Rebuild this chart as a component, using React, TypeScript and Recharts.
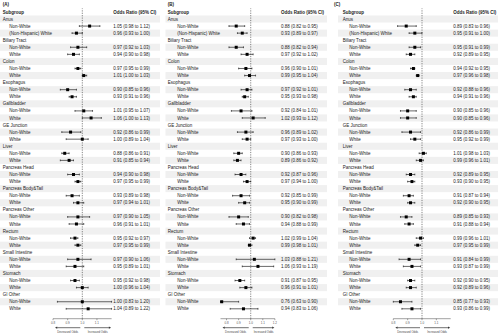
import React from 'react';
import {
  ScatterChart,
  Scatter,
  XAxis,
  YAxis,
  ErrorBar,
  ReferenceLine,
  ReferenceArea,
} from 'recharts';

const FONT = '"Liberation Sans", Arial, sans-serif';

// cancer sites, each has a Non-White and a White row
const sites = [
  'Anus', 'Biliary Tract', 'Colon', 'Esophagus', 'Gallbladder', 'GE Junction', 'Liver',
  'Pancreas Head', 'Pancreas Body&Tail', 'Pancreas Other', 'Rectum', 'Small Intestine',
  'Stomach', 'GI Other',
];

// values are in pairs per site: [Non-White, White]
const orA = [1.05, 0.96, 0.97, 0.94, 0.97, 1.01, 0.90, 0.93, 1.01, 1.06, 0.92, 1.00, 0.88, 0.91,
  0.94, 0.97, 0.93, 0.97, 0.97, 0.96, 0.95, 0.97, 0.97, 0.95, 0.95, 1.00, 1.00, 1.04];
const loA = [0.98, 0.93, 0.92, 0.90, 0.95, 1.00, 0.85, 0.91, 0.95, 1.00, 0.86, 0.89, 0.86, 0.85,
  0.90, 0.95, 0.89, 0.94, 0.90, 0.91, 0.92, 0.95, 0.90, 0.89, 0.92, 0.96, 0.83, 0.89];
const hiA = [1.12, 1.00, 1.03, 0.98, 0.99, 1.03, 0.96, 0.96, 1.07, 1.13, 0.99, 1.04, 0.91, 0.94,
  0.98, 0.99, 0.98, 1.01, 1.05, 1.01, 0.97, 0.99, 1.06, 1.01, 0.98, 1.04, 1.20, 1.22];

const orB = [0.88, 0.93, 0.88, 0.97, 0.96, 0.99, 0.97, 0.95, 0.92, 1.02, 0.96, 0.97, 0.90, 0.89,
  0.92, 0.97, 0.92, 0.95, 0.90, 0.94, 1.02, 0.99, 1.03, 1.06, 0.91, 0.96, 0.76, 0.94];
const loB = [0.82, 0.89, 0.82, 0.92, 0.90, 0.95, 0.92, 0.93, 0.84, 0.93, 0.89, 0.93, 0.86, 0.86,
  0.87, 0.94, 0.85, 0.90, 0.82, 0.88, 0.99, 0.98, 0.88, 0.93, 0.87, 0.91, 0.63, 0.83];
const hiB = [0.95, 0.97, 0.94, 1.02, 1.01, 1.04, 1.01, 0.98, 1.01, 1.12, 1.02, 1.00, 0.93, 0.92,
  0.96, 1.00, 0.99, 0.99, 0.98, 0.99, 1.04, 1.01, 1.21, 1.19, 0.95, 1.01, 0.90, 1.06];

const orC = [0.89, 0.95, 0.95, 0.92, 0.94, 0.97, 0.92, 0.94, 0.90, 0.90, 0.92, 0.95, 1.01, 0.99,
  0.92, 0.93, 0.91, 0.92, 0.89, 0.91, 0.99, 0.97, 0.91, 0.93, 0.92, 0.92, 0.85, 0.93];
const loC = [0.83, 0.91, 0.91, 0.89, 0.92, 0.96, 0.88, 0.91, 0.85, 0.85, 0.86, 0.92, 0.98, 0.96,
  0.89, 0.90, 0.87, 0.90, 0.85, 0.88, 0.96, 0.95, 0.84, 0.87, 0.90, 0.89, 0.77, 0.86];
const hiC = [0.96, 1.00, 0.99, 0.95, 0.95, 0.98, 0.96, 0.96, 0.96, 0.96, 0.99, 0.99, 1.03, 1.01,
  0.95, 0.95, 0.94, 0.95, 0.93, 0.94, 1.01, 0.99, 0.99, 0.99, 0.95, 0.96, 0.93, 0.99];

const ticksAC = [0.8, 0.9, 1.0, 1.1];
const ticksB = [0.8, 0.9, 1.0, 1.1, 1.2];

type PanelCfg = {
  title: string;
  left: number;
  width: number;
  plotLeft: number;
  plotRight: number;
  bandL: number;
  bandR: number;
  titleX: number;
  nameX: number;
  indentX: number;
  valueX: number;
  domain: [number, number];
  ticks: number[];
  or: number[];
  lo: number[];
  hi: number[];
};

const panels: PanelCfg[] = [
  { title: '(A)', left: 0, width: 162, plotLeft: 53, plotRight: 111.6, bandL: 0, bandR: 160,
    titleX: 2.7, nameX: 2.7, indentX: 9.3, valueX: 113.3, domain: [0.8, 1.2], ticks: ticksAC,
    or: orA, lo: loA, hi: hiA },
  { title: '(B)', left: 165, width: 164, plotLeft: 55.5, plotRight: 109.9, bandL: 0.5, bandR: 162,
    titleX: 2.7, nameX: 2.7, indentX: 12.3, valueX: 116, domain: [0.75, 1.2], ticks: ticksB,
    or: orB, lo: loB, hi: hiB },
  { title: '(C)', left: 331, width: 169, plotLeft: 62.3, plotRight: 119.7, bandL: 7, bandR: 167,
    titleX: 3, nameX: 11.7, indentX: 18.3, valueX: 122.3, domain: [0.8, 1.2], ticks: ticksAC,
    or: orC, lo: loC, hi: hiC },
];

const rowIds = Array.from({ length: 43 }, (_, i) => i - 1);
const shadedRows = rowIds.filter((i) => i >= 0 && i % 2 === 0);

function rowLabel(row: number) {
  const site = Math.floor(row / 3);
  const r = row % 3;
  if (r === 0) return sites[site];
  if (r === 1) return 'Non-White';
  return site === 0 ? '(Non-Hispanic) White' : 'White';
}

function buildPoints(cfg: PanelCfg) {
  return cfg.or.map((v, k) => {
    const row = Math.floor(k / 2) * 3 + 1 + (k % 2);
    const l = Math.max(cfg.lo[k], cfg.domain[0]);
    const h = Math.min(cfg.hi[k], cfg.domain[1]);
    return { x: v, y: row, err: [v - l, h - v], lo: cfg.lo[k], hi: cfg.hi[k] };
  });
}

function RowText(props: any) {
  const { cy, payload, cfg, texts } = props;
  const row = payload.y;
  const common = { fontFamily: FONT, fontSize: 4.5, fill: '#222', dy: '0.35em' };
  if (row === -1) {
    return (
      <g>
        <text x={cfg.titleX} y={cy - 7.9} {...common} fontWeight="bold">{cfg.title}</text>
        <text x={cfg.nameX} y={cy} {...common} fontWeight="bold">Subgroup</text>
        <text x={cfg.valueX} y={cy} {...common} fontWeight="bold">Odds Ratio (95% CI)</text>
      </g>
    );
  }
  const isHeader = row % 3 === 0;
  return (
    <g>
      <text x={isHeader ? cfg.nameX : cfg.indentX} y={cy} {...common}>{rowLabel(row)}</text>
      {!isHeader && <text x={cfg.valueX} y={cy} {...common}>{texts[row]}</text>}
    </g>
  );
}

function OddsArrows(props: any) {
  const { viewBox, domain } = props;
  if (!viewBox) return null;
  const { x, y, width } = viewBox;
  const ref = x + ((1 - domain[0]) / (domain[1] - domain[0])) * width;
  const ay = y + 9;
  const ty = y + 13;
  const l1 = x + 2;
  const l2 = ref - 2;
  const r1 = ref + 2;
  const r2 = x + width - 0.5;
  const c = '#333';
  return (
    <g>
      <line x1={l1 + 1.8} y1={ay} x2={l2} y2={ay} stroke={c} strokeWidth={0.7} />
      <polygon points={`${l1},${ay} ${l1 + 2.2},${ay - 1.1} ${l1 + 2.2},${ay + 1.1}`} fill={c} />
      <line x1={r1} y1={ay} x2={r2 - 1.8} y2={ay} stroke={c} strokeWidth={0.7} />
      <polygon points={`${r2},${ay} ${r2 - 2.2},${ay - 1.1} ${r2 - 2.2},${ay + 1.1}`} fill={c} />
      <text x={(l1 + l2) / 2} y={ty} textAnchor="middle" fontSize={2.8} fill="#444" fontFamily={FONT} dy="0.35em">
        Decreased Odds
      </text>
      <text x={(r1 + r2) / 2} y={ty} textAnchor="middle" fontSize={2.8} fill="#444" fontFamily={FONT} dy="0.35em">
        Increased Odds
      </text>
    </g>
  );
}

function Panel({ cfg }: { cfg: PanelCfg }) {
  const pts = buildPoints(cfg);
  const texts: Record<number, string> = {};
  pts.forEach((p) => {
    texts[p.y] = `${p.x.toFixed(2)} (${p.lo.toFixed(2)} to ${p.hi.toFixed(2)})`;
  });
  const rows = rowIds.map((r) => ({ x: 1, y: r }));
  return (
    <div style={{ position: 'absolute', left: cfg.left, top: 0 }}>
      <ScatterChart
        width={cfg.width}
        height={333}
        margin={{ top: 8.4, right: cfg.width - cfg.plotRight, bottom: 0, left: cfg.plotLeft }}
      >
        {shadedRows.map((i) => (
          <ReferenceArea
            key={i}
            y1={i - 0.5}
            y2={i + 0.5}
            ifOverflow="visible"
            shape={(p: any) => (
              <rect x={cfg.bandL} y={p.y} width={cfg.bandR - cfg.bandL} height={p.height} fill="#f0f0f0" />
            )}
          />
        ))}
        <XAxis
          type="number"
          dataKey="x"
          domain={cfg.domain}
          ticks={cfg.ticks}
          interval={0}
          height={14.3}
          tickSize={1.5}
          tickFormatter={(v: number) => v.toFixed(1)}
          tick={{ fontSize: 3, fill: '#555', fontFamily: FONT }}
          axisLine={{ stroke: '#444', strokeWidth: 0.5 }}
          tickLine={{ stroke: '#444', strokeWidth: 0.5 }}
          label={(p: any) => <OddsArrows {...p} domain={cfg.domain} />}
        />
        <YAxis type="number" dataKey="y" domain={[-1.5, 42.4]} reversed hide width={0} />
        <ReferenceLine x={1} stroke="#333" strokeDasharray="1.2 1.2" strokeWidth={0.6} />
        <Scatter
          data={rows}
          isAnimationActive={false}
          shape={(p: any) => <RowText {...p} cfg={cfg} texts={texts} />}
        />
        <Scatter
          data={pts}
          fill="#000"
          isAnimationActive={false}
          shape={(p: any) => <rect x={p.cx - 1.5} y={p.cy - 1.5} width={3} height={3} fill="#000" />}
        >
          <ErrorBar dataKey="err" direction="x" width={0.9} stroke="#000" strokeWidth={0.6} />
        </Scatter>
      </ScatterChart>
    </div>
  );
}

export default function App() {
  return (
    <div style={{ position: 'absolute', left: 0, top: 0, width: 500, height: 333, background: '#fff' }}>
      {panels.map((cfg) => (
        <Panel key={cfg.title} cfg={cfg} />
      ))}
    </div>
  );
}
